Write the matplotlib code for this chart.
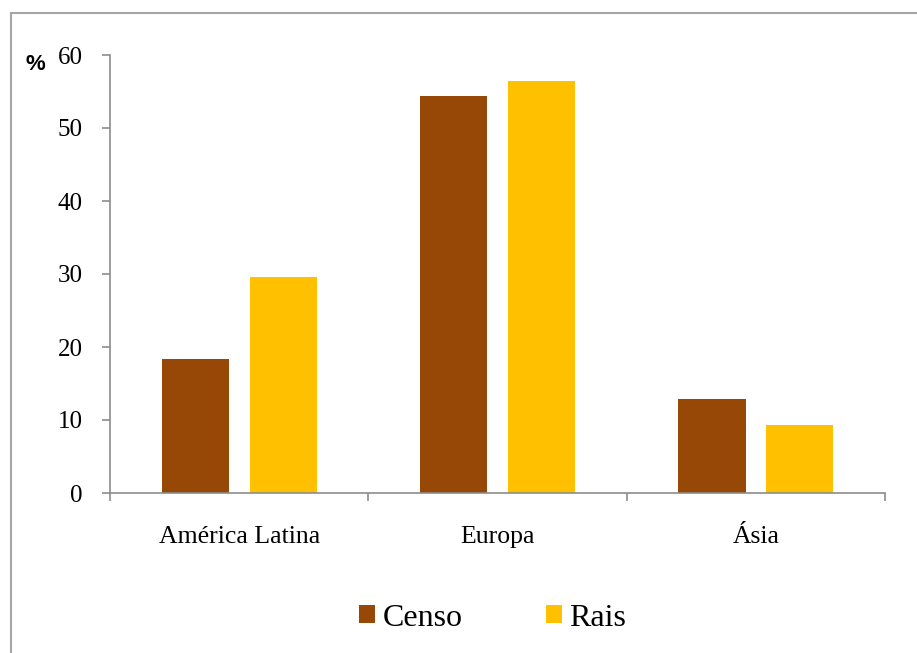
import numpy as np
import matplotlib.pyplot as plt
from matplotlib.patches import Rectangle

categorias = ['América Latina', 'Europa', 'Ásia']
censo = [18.4, 54.4, 12.9]
rais = [29.6, 56.4, 9.3]

cor_censo = '#974706'
cor_rais = '#FFC000'
cinza = '#8c8c8c'

W, H = 917, 653
fig = plt.figure(figsize=(W / 100, H / 100), dpi=100)
plt.rcParams['font.family'] = ['Liberation Serif', 'DejaVu Serif']

# moldura (so a esquerda e o topo aparecem)
fig.patches.append(Rectangle((11 / W, -0.1), 1.2, 1 - 13 / H + 0.1,
                             transform=fig.transFigure, fill=False,
                             edgecolor='#a6a6a6', linewidth=1.5))

ax = fig.add_axes([110 / W, 1 - 493 / H, (885 - 110) / W, (493 - 55) / H])

x = np.arange(len(categorias))
larg = 0.26
ax.bar(x - 0.17, censo, larg, color=cor_censo, label='Censo')
ax.bar(x + 0.17, rais, larg, color=cor_rais, label='Rais')

ax.set_xlim(-0.5, 2.5)
ax.set_ylim(0, 60)
ax.set_yticks(range(0, 61, 10))
ax.set_xticks(x)
ax.set_xticklabels(categorias)
ax.set_xticks([-0.5, 0.5, 1.5, 2.5], minor=True)
ax.tick_params(axis='x', which='major', length=0, pad=24, labelsize=18.5)
ax.tick_params(axis='x', which='minor', length=5.5, color=cinza, width=1.2)
ax.tick_params(axis='y', length=5.5, color=cinza, width=1.2, labelsize=18, pad=14)

for lado in ['top', 'right']:
    ax.spines[lado].set_visible(False)
for lado in ['left', 'bottom']:
    ax.spines[lado].set_color(cinza)
    ax.spines[lado].set_linewidth(1.2)

fig.text(25 / W, 1 - 65 / H, '%', family='Liberation Sans', weight='bold',
         fontsize=16, ha='left', va='center')

ax.legend(loc='center', bbox_to_anchor=(0.5 - 5 / 775, (493 - 618) / (493 - 55)),
          ncol=2, frameon=False, fontsize=23, handlelength=0.5,
          handleheight=0.5, handletextpad=0.25, columnspacing=2.6)

fig.savefig('out.png', dpi=100)
